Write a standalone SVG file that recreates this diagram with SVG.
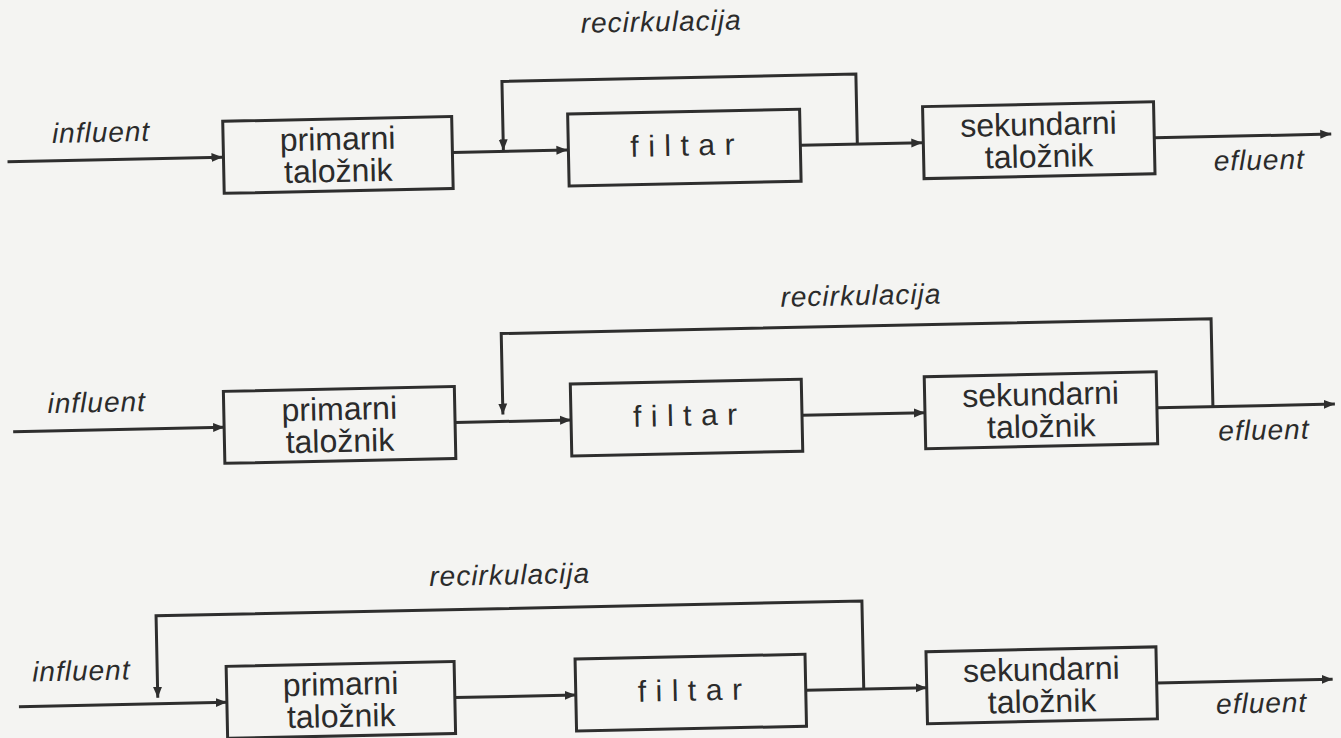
<svg xmlns="http://www.w3.org/2000/svg" width="1341" height="738" viewBox="0 0 1341 738">
<defs>
<marker id="ah" markerWidth="12" markerHeight="10" refX="11" refY="5" orient="auto" markerUnits="userSpaceOnUse"><path d="M0,0.5 L11,5 L0,9.5 z" fill="#2e2e2e"/></marker>
<style>
.box{fill:none;stroke:#2e2e2e;stroke-width:3}
.ln{fill:none;stroke:#2e2e2e;stroke-width:3;marker-end:url(#ah)}
.lbl{font-family:"Liberation Sans",Arial,sans-serif;font-size:32px;fill:#2b2b2b;text-anchor:middle}
.flt{font-family:"Liberation Sans",Arial,sans-serif;font-size:30px;fill:#2b2b2b;letter-spacing:9.5px}
.it{font-family:"Liberation Sans",Arial,sans-serif;font-style:italic;font-size:28px;fill:#2b2b2b;letter-spacing:1px}
</style>
</defs>
<rect width="1341" height="738" fill="#f4f4f2"/>
<g transform="rotate(-1.2 670 369)">
<g id="connectors">
<path class="ln" d="M12,148 H227"/>
<path class="ln" d="M457,148 H572"/>
<path class="ln" d="M805,148 H927"/>
<path class="ln" d="M1159,148 H1336"/>
<path class="ln" d="M862,148 V78 H508 V147"/>
<path class="ln" d="M12,418 H223"/>
<path class="ln" d="M454,418 H570"/>
<path class="ln" d="M801,418 H924"/>
<path class="ln" d="M1156,418 H1334"/>
<path class="ln" d="M1212,418 V330 H502 V411"/>
<path class="ln" d="M12,693 H220"/>
<path class="ln" d="M448,693 H569"/>
<path class="ln" d="M799,693 H920"/>
<path class="ln" d="M1150,693 H1326"/>
<path class="ln" d="M857,693 V605 H151 V687"/>
</g>
<g id="labels">
<text class="it" x="57" y="130">influent</text>
<text class="it" x="1218" y="182">efluent</text>
<text class="it" x="588" y="31">recirkulacija</text>
<text class="it" x="47" y="400">influent</text>
<text class="it" x="1217" y="452">efluent</text>
<text class="it" x="782" y="309">recirkulacija</text>
<text class="it" x="26" y="668">influent</text>
<text class="it" x="1209" y="725">efluent</text>
<text class="it" x="425" y="581">recirkulacija</text>
</g>
<g id="primarni1"><rect class="box" x="228" y="112" width="229" height="72"/><text class="lbl" x="342.5" y="143">primarni</text><text class="lbl" x="342.5" y="175">taložnik</text></g>
<g id="filtar1"><rect class="box" x="573" y="112" width="232" height="72"/><text class="flt" x="635" y="156">filtar</text></g>
<g id="sekundarni1"><rect class="box" x="928" y="112" width="231" height="72"/><text class="lbl" x="1043.5" y="143">sekundarni</text><text class="lbl" x="1043.5" y="175">taložnik</text></g>
<g id="primarni2"><rect class="box" x="223" y="382" width="231" height="72"/><text class="lbl" x="338.5" y="413">primarni</text><text class="lbl" x="338.5" y="445">taložnik</text></g>
<g id="filtar2"><rect class="box" x="570" y="382" width="231" height="72"/><text class="flt" x="632" y="426">filtar</text></g>
<g id="sekundarni2"><rect class="box" x="924" y="382" width="232" height="72"/><text class="lbl" x="1040" y="413">sekundarni</text><text class="lbl" x="1040" y="445">taložnik</text></g>
<g id="primarni3"><rect class="box" x="220" y="657" width="228" height="72"/><text class="lbl" x="334" y="688">primarni</text><text class="lbl" x="334" y="720">taložnik</text></g>
<g id="filtar3"><rect class="box" x="569" y="657" width="230" height="72"/><text class="flt" x="631" y="701">filtar</text></g>
<g id="sekundarni3"><rect class="box" x="920" y="657" width="230" height="72"/><text class="lbl" x="1035" y="688">sekundarni</text><text class="lbl" x="1035" y="720">taložnik</text></g>
</g>
</svg>
